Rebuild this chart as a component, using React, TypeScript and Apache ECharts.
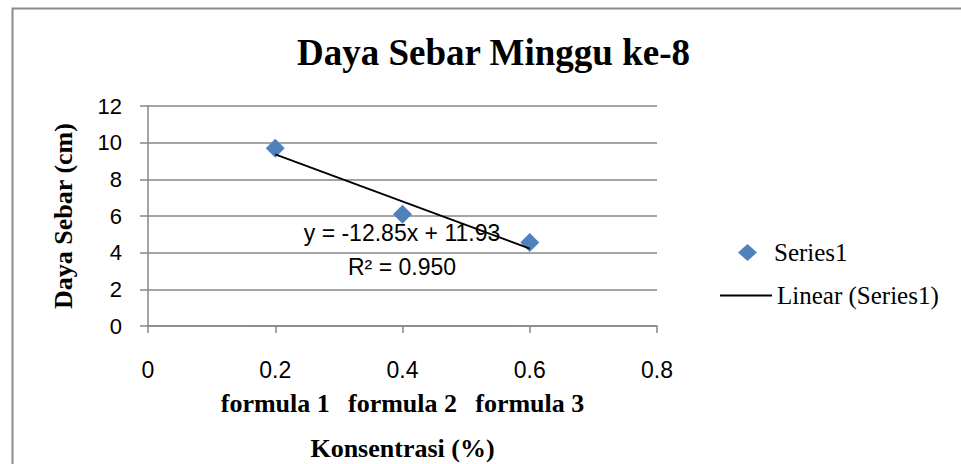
import React, { useEffect, useRef } from "react";
import * as echarts from "echarts";

const X_VALUES = [0.2, 0.4, 0.6];
const Y_VALUES = [9.7, 6.1, 4.56];
const FORMULA_LABELS = ["formula 1", "formula 2", "formula 3"];
const SLOPE = -12.85;
const INTERCEPT = 11.93;
const R2_TEXT = "0.950";
const TITLE = "Daya Sebar Minggu ke-8";
const Y_NAME = "Daya Sebar (cm)";
const X_NAME = "Konsentrasi (%)";
const SERIES_NAME = "Series1";
const TREND_NAME = "Linear (Series1)";

export default function App() {
  const ref = useRef<HTMLDivElement>(null);
  useEffect(() => {
    document.body.style.margin = "0";
    const chart = echarts.init(ref.current!, null, { renderer: "svg" });
    const xMin = Math.min(...X_VALUES);
    const xMax = Math.max(...X_VALUES);
    const trend = [
      [xMin, SLOPE * xMin + INTERCEPT],
      [xMax, SLOPE * xMax + INTERCEPT],
    ];
    const fmtX = (v: number) => String(Math.round(v * 10) / 10);
    const formulaFor = (v: number) => {
      const i = X_VALUES.findIndex((x) => Math.abs(x - v) < 1e-6);
      return i >= 0 ? FORMULA_LABELS[i] : "";
    };
    const grey = "#868686";
    chart.setOption({
      animation: false,
      backgroundColor: "#fff",
      title: {
        text: TITLE,
        left: 292,
        top: 29,
        textStyle: {
          fontFamily: "Liberation Serif",
          fontWeight: "bold",
          fontSize: 37,
          color: "#000",
        },
      },
      grid: { left: 148, right: 304, top: 106, bottom: 138 },
      xAxis: [
        {
          type: "value",
          min: 0,
          max: 0.8,
          interval: 0.2,
          name: X_NAME,
          nameLocation: "middle",
          nameGap: 109,
          nameTextStyle: {
            fontFamily: "Liberation Serif",
            fontWeight: "bold",
            fontSize: 26,
            color: "#000",
          },
          axisLine: { show: true, lineStyle: { color: grey, width: 1.5 } },
          axisTick: { show: true, length: 7, lineStyle: { color: grey, width: 1.5 } },
          splitLine: { show: false },
          axisLabel: {
            margin: 32,
            formatter: fmtX,
            fontFamily: "Liberation Sans",
            fontSize: 23,
            color: "#000",
          },
        },
        {
          type: "value",
          min: 0,
          max: 0.8,
          interval: 0.2,
          position: "bottom",
          axisLine: { show: false },
          axisTick: { show: false },
          splitLine: { show: false },
          axisLabel: {
            margin: 64,
            formatter: formulaFor,
            fontFamily: "Liberation Serif",
            fontWeight: "bold",
            fontSize: 26,
            color: "#000",
          },
        },
      ],
      yAxis: {
        type: "value",
        min: 0,
        max: 12,
        interval: 2,
        name: Y_NAME,
        nameLocation: "middle",
        nameGap: 72,
        nameTextStyle: {
          fontFamily: "Liberation Serif",
          fontWeight: "bold",
          fontSize: 26,
          color: "#000",
        },
        axisLine: { show: true, lineStyle: { color: grey, width: 1.5 } },
        axisTick: { show: true, length: 8, lineStyle: { color: grey, width: 1.5 } },
        splitLine: { show: true, lineStyle: { color: grey, width: 1.5 } },
        axisLabel: {
          margin: 26,
          fontFamily: "Liberation Sans",
          fontSize: 22,
          color: "#000",
        },
      },
      legend: [
        {
          data: [SERIES_NAME],
          left: 733,
          top: 235,
          itemWidth: 19,
          itemHeight: 17,
          textStyle: {
            fontFamily: "Liberation Serif",
            fontSize: 25,
            color: "#000",
            padding: [0, 0, 0, 12],
          },
        },
        {
          data: [{ name: TREND_NAME, icon: "rect" }],
          left: 715,
          top: 278,
          itemWidth: 52,
          itemHeight: 2,
          itemStyle: { color: "#000" },
          textStyle: {
            fontFamily: "Liberation Serif",
            fontSize: 25,
            color: "#000",
          },
        },
      ],
      series: [
        {
          name: TREND_NAME,
          type: "line",
          data: trend,
          symbol: "none",
          lineStyle: { color: "#000", width: 1.8 },
          itemStyle: { color: "#000" },
          z: 3,
        },
        {
          name: SERIES_NAME,
          type: "scatter",
          data: X_VALUES.map((x, i) => [x, Y_VALUES[i]]),
          symbol: "diamond",
          symbolSize: 19,
          itemStyle: { color: "#4F81BD", opacity: 1 },
          z: 2,
        },
      ],
      graphic: [
        {
          type: "rect",
          shape: { x: 12.5, y: 8.5, width: 1000, height: 600 },
          style: { fill: "none", stroke: "#8c8c8c", lineWidth: 2 },
          silent: true,
        },
        {
          type: "text",
          x: 402,
          y: 233,
          style: {
            text: `y = ${SLOPE}x + ${INTERCEPT}`,
            font: "23px 'Liberation Sans'",
            fill: "#000",
            textAlign: "center",
            textVerticalAlign: "middle",
            verticalAlign: "middle",
          },
          z: 10,
        },
        {
          type: "text",
          x: 402,
          y: 267,
          style: {
            text: `R² = ${R2_TEXT}`,
            font: "23px 'Liberation Sans'",
            fill: "#000",
            textAlign: "center",
            textVerticalAlign: "middle",
            verticalAlign: "middle",
          },
          z: 10,
        },
      ],
    });
    return () => chart.dispose();
  }, []);
  return <div ref={ref} style={{ width: 961, height: 464 }} />;
}
